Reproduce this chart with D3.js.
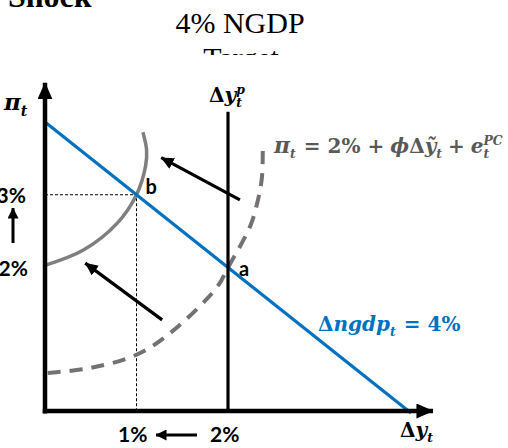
<!DOCTYPE html>
<html>
<head>
<meta charset="utf-8">
<script src="https://cdn.jsdelivr.net/npm/d3@7"></script>
<style>
  html, body { margin: 0; padding: 0; background: #fff; }
  svg { display: block; }
</style>
</head>
<body>
<svg id="chart" width="508" height="448"></svg>
<script>
// Output growth (Δy, %) and inflation (π, %) ranges
const outputDomain = [0, 4];
const inflationDomain = [0, 4];

// Nominal GDP growth target: π + Δy = 4%
const ngdpTarget = 4;
const ngdpOutput = [0, 4];

// Potential output growth
const potentialOutput = 2;

// Phillips curve before the shock (dashed), points as [Δy, π]
const pcBeforeX = [0.03, 0.5, 1.0, 1.37, 1.88, 2.0, 2.24, 2.32, 2.37, 2.38];
const pcBeforeY = [0.55, 0.62, 0.80, 1.10, 1.73, 2.0, 2.56, 2.89, 3.23, 3.72];

// Phillips curve after the shock (solid)
const pcAfterX = [0.0, 0.42, 0.79, 1.0, 1.10, 1.11, 1.07];
const pcAfterY = [2.03, 2.24, 2.61, 3.0, 3.40, 3.62, 3.86];

// Equilibria
const pointA = [2, 2];
const pointB = [1, 3];

// Shift arrows, [from, to] in [Δy, π]
const shiftArrows = [
  [[2.13, 2.93], [1.27, 3.51]],
  [[1.28, 1.28], [0.44, 2.06]]
];

const svg = d3.select("#chart");
const x = d3.scaleLinear().domain(outputDomain).range([45, 411]);
const y = d3.scaleLinear().domain(inflationDomain).range([413, 122]);

const defs = svg.append("defs");
function marker(id, len, wid) {
  defs.append("marker")
    .attr("id", id)
    .attr("markerUnits", "userSpaceOnUse")
    .attr("viewBox", `0 0 ${len} ${wid}`)
    .attr("refX", len - 0.5).attr("refY", wid / 2)
    .attr("markerWidth", len).attr("markerHeight", wid)
    .attr("orient", "auto")
    .append("path")
    .attr("d", `M0,0 L${len},${wid / 2} L0,${wid} Z`)
    .attr("fill", "#000");
}
marker("axisHead", 17, 15);
marker("shiftHead", 13, 12);
marker("smallHead", 11, 11);

const serif = "'Liberation Serif', 'Times New Roman', serif";
const mathFont = "'DejaVu Serif', serif";
const sans = "Lato, 'Open Sans', sans-serif";

// Title block
svg.append("text").attr("x", 8).attr("y", 7)
  .attr("font-family", serif).attr("font-weight", "bold").attr("font-size", 32)
  .text("Shock");
svg.append("text").attr("x", 240).attr("y", 33).attr("text-anchor", "middle")
  .attr("font-family", serif).attr("font-size", 30)
  .text("4% NGDP");
svg.append("text").attr("x", 241).attr("y", 68).attr("text-anchor", "middle")
  .attr("font-family", serif).attr("font-size", 30)
  .text("Target");
// the figure panel sits over the lower part of the title
svg.append("rect").attr("x", 0).attr("y", 55).attr("width", 508).attr("height", 393)
  .attr("fill", "#fff");

const line = d3.line().x(d => x(d[0])).y(d => y(d[1]));

// Dotted guides to point b
svg.append("path")
  .attr("d", line([[0, pointB[1]], pointB, [pointB[0], 0]]))
  .attr("fill", "none").attr("stroke", "#000").attr("stroke-width", 1)
  .attr("stroke-dasharray", "3,2");

// Phillips curve before shock (dashed)
const pcBefore = pcBeforeX.map((v, i) => [v, pcBeforeY[i]]);
svg.append("path")
  .attr("d", d3.line().x(d => x(d[0])).y(d => y(d[1])).curve(d3.curveCatmullRom)(pcBefore))
  .attr("fill", "none").attr("stroke", "#767171").attr("stroke-width", 4)
  .attr("stroke-dasharray", "13,9");

// Phillips curve after shock
const pcAfter = pcAfterX.map((v, i) => [v, pcAfterY[i]]);
svg.append("path")
  .attr("d", d3.line().x(d => x(d[0])).y(d => y(d[1])).curve(d3.curveCatmullRom)(pcAfter))
  .attr("fill", "none").attr("stroke", "#7f7f7f").attr("stroke-width", 3.5);

// NGDP target line
svg.append("path")
  .attr("d", line(ngdpOutput.map(v => [v, ngdpTarget - v])))
  .attr("fill", "none").attr("stroke", "#0070c0").attr("stroke-width", 3.2);

// Potential output growth
svg.append("line")
  .attr("x1", x(potentialOutput)).attr("x2", x(potentialOutput))
  .attr("y1", y(0)).attr("y2", y(4.14))
  .attr("stroke", "#000").attr("stroke-width", 3.2);

// Axes
svg.append("line")
  .attr("x1", x(0)).attr("y1", y(0) + 0.5).attr("x2", x(0)).attr("y2", y(4.54))
  .attr("stroke", "#000").attr("stroke-width", 4.5).attr("marker-end", "url(#axisHead)");
svg.append("line")
  .attr("x1", x(0) - 2.25).attr("y1", y(0) - 2).attr("x2", x(4.24)).attr("y2", y(0) - 2)
  .attr("stroke", "#000").attr("stroke-width", 4.5).attr("marker-end", "url(#axisHead)");

// Shift arrows
shiftArrows.forEach(([a, b]) => {
  svg.append("line")
    .attr("x1", x(a[0])).attr("y1", y(a[1])).attr("x2", x(b[0])).attr("y2", y(b[1]))
    .attr("stroke", "#000").attr("stroke-width", 3.2).attr("marker-end", "url(#shiftHead)");
});

// Point labels
svg.append("text").attr("x", x(pointB[0]) + 9).attr("y", y(pointB[1]) - 1)
  .attr("font-family", sans).attr("font-weight", "bold").attr("font-size", 20).text("b");
svg.append("text").attr("x", x(pointA[0]) + 11).attr("y", y(pointA[1]) + 8)
  .attr("font-family", sans).attr("font-weight", "bold").attr("font-size", 20).text("a");

// Inflation change on the vertical axis
svg.append("text").attr("x", 26).attr("y", y(3) + 8).attr("text-anchor", "end")
  .attr("font-family", sans).attr("font-weight", "bold").attr("font-size", 21).text("3%");
svg.append("text").attr("x", 28).attr("y", y(2) + 8).attr("text-anchor", "end")
  .attr("font-family", sans).attr("font-weight", "bold").attr("font-size", 21).text("2%");
svg.append("line").attr("x1", 13).attr("y1", 243).attr("x2", 13).attr("y2", 208)
  .attr("stroke", "#000").attr("stroke-width", 3).attr("marker-end", "url(#smallHead)");

// Output change on the horizontal axis
svg.append("text").attr("x", 118).attr("y", 442)
  .attr("font-family", sans).attr("font-weight", "bold").attr("font-size", 21).text("1%");
svg.append("text").attr("x", 210).attr("y", 442)
  .attr("font-family", sans).attr("font-weight", "bold").attr("font-size", 21).text("2%");
svg.append("line").attr("x1", 197).attr("y1", 435).attr("x2", 156).attr("y2", 435)
  .attr("stroke", "#000").attr("stroke-width", 3).attr("marker-end", "url(#smallHead)");

// Lays out a row of math glyph runs left to right, measuring each run.
// A run is {t, i, gap} or a script block {sub, sup}.
function mathRow(x0, base, size, color, runs) {
  const g = svg.append("g")
    .attr("font-family", mathFont).attr("font-weight", "bold").attr("fill", color);
  let cx = x0;
  const put = (str, px, py, fs, italic) => {
    const el = g.append("text").attr("x", px).attr("y", py)
      .attr("font-size", fs).attr("font-style", italic ? "italic" : "normal").text(str);
    return el.node().getComputedTextLength();
  };
  runs.forEach(r => {
    cx += r.gap || 0;
    if (r.t !== undefined) {
      cx += put(r.t, cx, base, r.size || size, r.i);
    } else {
      const fs = size * 0.62;
      let w = 0;
      if (r.sub) w = Math.max(w, put(r.sub, cx, base + size * 0.26, fs, true));
      if (r.sup) w = Math.max(w, put(r.sup, cx, base - size * 0.42, fs, true));
      cx += w;
    }
  });
  return cx;
}

// π_t axis label
mathRow(4, 110, 23, "#000", [{ t: "π", i: true }, { sub: "t" }]);
// Δy_t axis label
mathRow(400, 437, 20, "#000", [{ t: "Δ" }, { t: "y", i: true }, { sub: "t" }]);
// Δy_t^p
mathRow(209, 102, 20, "#000", [{ t: "Δ" }, { t: "y", i: true }, { sub: "t", sup: "p" }]);

// Phillips curve equation
mathRow(274, 153, 20, "#595959", [
  { t: "π", i: true, size: 22 }, { sub: "t" },
  { t: "=", gap: 8 }, { t: "2%", gap: 7 }, { t: "+", gap: 7 },
  { t: "ϕ", i: true, gap: 6 }, { t: "Δ" }, { t: "ỹ", i: true }, { sub: "t" },
  { t: "+", gap: 6 }, { t: "e", i: true, gap: 6 }, { sub: "t", sup: "PC" }
]);

// NGDP constraint label
mathRow(318, 331, 20, "#0070c0", [
  { t: "Δ" }, { t: "ngdp", i: true }, { sub: "t" },
  { t: "=", gap: 8 }, { t: "4%", gap: 7 }
]);
</script>
</body>
</html>
